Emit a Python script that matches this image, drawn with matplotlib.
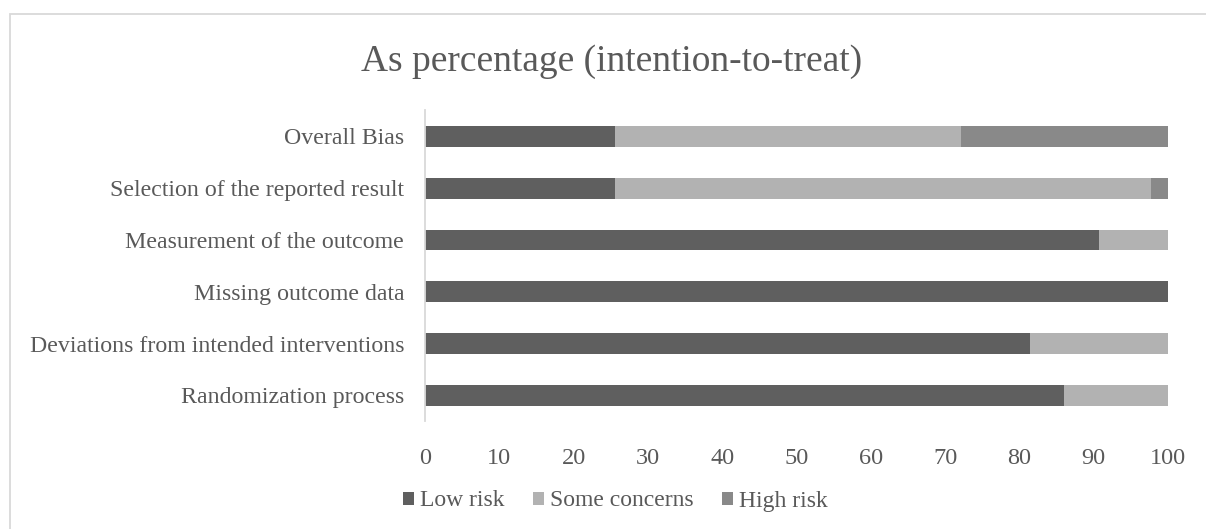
import numpy as np
import matplotlib.pyplot as plt
from matplotlib.patches import Rectangle

# risk of bias domains, bottom to top
domains = ["Randomization process",
           "Deviations from intended interventions",
           "Missing outcome data",
           "Measurement of the outcome",
           "Selection of the reported result",
           "Overall Bias"]

# percentages of studies (n = 43)
low_risk = [86.0, 81.4, 100.0, 90.7, 25.6, 25.6]
some_concerns = [14.0, 18.6, 0.0, 9.3, 72.1, 46.5]
high_risk = [0.0, 0.0, 0.0, 0.0, 2.3, 27.9]

series = ["Low risk", "Some concerns", "High risk"]
colors = ["#5f5f5f", "#b2b2b2", "#898989"]
txt = "#595959"

plt.rcParams['font.family'] = ['Liberation Serif', 'DejaVu Serif']

fig = plt.figure(figsize=(12.06, 5.29), dpi=100)
ax = fig.add_axes([0.3524, 0.2034, 0.6161, 0.5879])

# outer chart frame (runs off the right and bottom edges)
fig.patches.append(Rectangle((9.5/1206, -0.1), 1.2, 1 - 14/529 + 0.1,
                             transform=fig.transFigure, fill=False,
                             edgecolor="#d9d9d9", linewidth=1.3))

y = np.arange(len(domains))
left = np.zeros(len(domains))
for vals, name, c in zip([low_risk, some_concerns, high_risk], series, colors):
    ax.barh(y, vals, left=left, height=0.4, color=c, label=name)
    left += np.array(vals)

ax.set_xlim(0, 100)
ax.set_ylim(-0.5, len(domains) - 0.5)
ax.set_xticks(np.arange(0, 101, 10))
ax.set_yticks(y)
ax.set_yticklabels(domains)
ax.tick_params(axis="both", length=0, colors=txt)
ax.tick_params(axis="x", pad=19, labelsize=17.5)
ax.tick_params(axis="y", pad=15, labelsize=17.2)

for s in ["top", "right", "bottom"]:
    ax.spines[s].set_visible(False)
ax.spines["left"].set_color("#d9d9d9")
ax.spines["left"].set_linewidth(1.3)

fig.text(0.507, 1 - 62/529, "As percentage (intention-to-treat)", ha="center",
         va="center", fontsize=27, color=txt)

fig.legend(loc="center", bbox_to_anchor=(0.51, 1 - 501/529), ncol=3,
           frameon=False, fontsize=17, labelcolor=txt, handlelength=0.47,
           handleheight=0.47, handletextpad=0.25, columnspacing=1.2,
           borderaxespad=0, borderpad=0)

fig.savefig("out.png", dpi=100)
